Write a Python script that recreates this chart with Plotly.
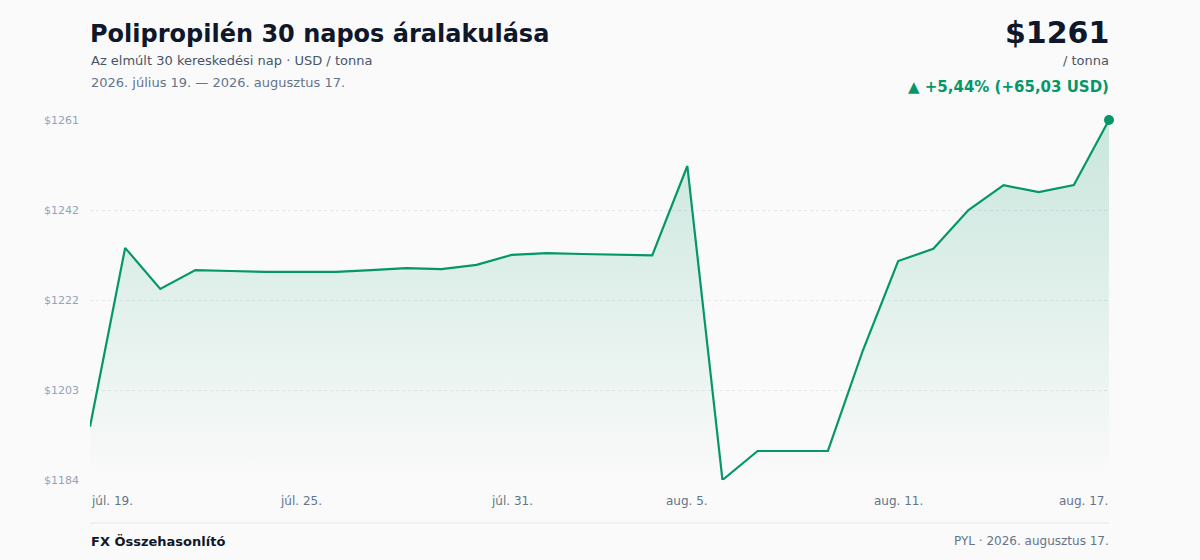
import plotly.graph_objects as go
import pandas as pd

# ---- data ----
dates = pd.date_range("2026-07-19", "2026-08-17", freq="D").strftime("%Y-%m-%d").tolist()
prices = [1195.57, 1233.5, 1224.8, 1228.8, 1228.6, 1228.4, 1228.4, 1228.4, 1228.8, 1229.2,
          1229.0, 1229.9, 1232.0, 1232.4, 1232.2, 1232.1, 1231.9, 1250.85, 1184.3, 1190.45,
          1190.45, 1190.45, 1211.85, 1230.7, 1233.3, 1241.5, 1246.8, 1245.3, 1246.8, 1260.6]
x_tick_dates = ["2026-07-19", "2026-07-25", "2026-07-31", "2026-08-05", "2026-08-11", "2026-08-17"]
x_tick_labels = ["júl. 19.", "júl. 25.", "júl. 31.", "aug. 5.", "aug. 11.", "aug. 17."]

title = "Polipropilén 30 napos áralakulása"
subtitle = "Az elmúlt 30 kereskedési nap · USD / tonna"
date_range_text = "2026. július 19. — 2026. augusztus 17."
footer_left = "FX Összehasonlító"
footer_right = "PYL · 2026. augusztus 17."

ymin, ymax = min(prices), max(prices)
first, last = prices[0], prices[-1]
diff = last - first
pct = diff / first * 100
y_ticks = [ymin + (ymax - ymin) * i / 4 for i in range(5)]
y_tick_text = [f"${round(v)}" for v in y_ticks]

GREEN = "#059669"
FONT = "DejaVu Sans"

# plot area in pixels
L, R, T, B = 90, 1109, 120, 480
def px(xp):
    return (xp - L) / (R - L)
def py(yp):
    return (B - yp) / (B - T)

fig = go.Figure()
fig.add_trace(go.Scatter(
    x=dates, y=prices, mode="lines",
    line=dict(color=GREEN, width=2.2),
    fill="tozeroy",
    fillgradient=dict(type="vertical", start=ymin, stop=ymax,
                      colorscale=[[0, "rgba(5,150,105,0.0)"], [1, "rgba(5,150,105,0.2)"]]),
    hoverinfo="skip", showlegend=False,
))
fig.add_trace(go.Scatter(
    x=[dates[-1]], y=[prices[-1]], mode="markers",
    marker=dict(color=GREEN, size=10, line=dict(color="#fafafa", width=0)),
    cliponaxis=False, hoverinfo="skip", showlegend=False,
))

ann = []
def a(text, x, y, size, color, xanchor="left", bold=False, yanchor="middle", xref="paper"):
    ann.append(dict(text=f"<b>{text}</b>" if bold else text, x=x, y=y, xref=xref, yref="paper",
                    xanchor=xanchor, yanchor=yanchor, showarrow=False,
                    font=dict(family=FONT, size=size, color=color)))

a(title, px(88), py(34), 24, "#0f172a", bold=True)
a(subtitle, px(89), py(61), 13, "#475569")
a(date_range_text, px(89), py(83), 13, "#64748b")
a(f"${round(last)}", px(1111), py(32), 30, "#0f172a", xanchor="right", bold=True)
a("/ tonna", px(1111), py(61), 13, "#475569", xanchor="right")
sign = "+" if diff >= 0 else "−"
chg = f"▲ {sign}{abs(pct):.2f}% ({sign}{abs(diff):.2f} USD)".replace(".", ",")
a(chg, px(1111), py(87), 15, GREEN, xanchor="right", bold=True)

for i, (d, lab) in enumerate(zip(x_tick_dates, x_tick_labels)):
    xa = "left" if i == 0 else ("right" if i == len(x_tick_dates) - 1 else "center")
    xoff = -1 if i == 0 else (1 if i == len(x_tick_dates) - 1 else 0)
    ann.append(dict(text=lab, x=d, y=py(501), xref="x", yref="paper", xanchor=xa, yanchor="middle",
                    xshift=xoff, showarrow=False, font=dict(family=FONT, size=12, color="#64748b")))

a(footer_left, px(89), py(541), 13, "#0f172a", bold=True)
a(footer_right, px(1111), py(541), 12, "#64748b", xanchor="right")

fig.update_layout(
    width=1200, height=560,
    margin=dict(l=L, r=1200 - R, t=T, b=560 - B),
    paper_bgcolor="#fafafa", plot_bgcolor="#fafafa",
    annotations=ann,
    shapes=[dict(type="line", xref="paper", yref="paper", x0=0, x1=1, y0=py(523), y1=py(523),
                 line=dict(color="#e5e7eb", width=1))],
    font=dict(family=FONT),
    hovermode=False,
)
fig.update_xaxes(range=[dates[0], dates[-1]], showgrid=False, showticklabels=False,
                 zeroline=False, showline=False, fixedrange=True)
fig.update_yaxes(range=[ymin, ymax], tickvals=y_ticks, ticktext=y_tick_text,
                 showgrid=True, gridcolor="#e5e7eb", griddash="dot", gridwidth=1,
                 zeroline=False, showline=False, ticks="", ticklabelstandoff=10,
                 tickfont=dict(family=FONT, size=11, color="#94a3b8"), fixedrange=True)

fig.write_html("out.html", config={"displayModeBar": False},
               post_script="document.body.style.margin='0';document.body.style.background='#fafafa';")
